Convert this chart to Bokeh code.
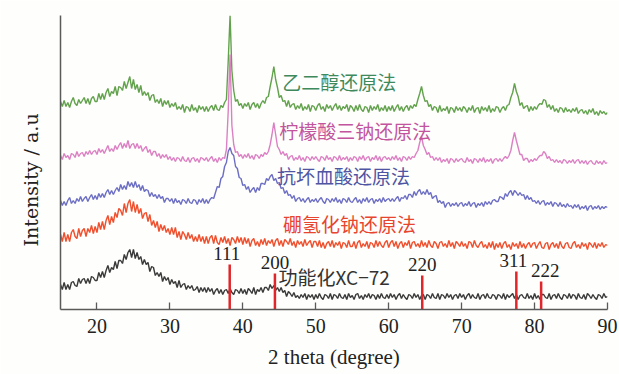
import numpy as np
from bokeh.plotting import figure
from bokeh.models import Range1d, FixedTicker, Label, ColumnDataSource, Title
from bokeh.core.properties import value
from bokeh.embed import file_html
from bokeh.resources import INLINE

# 2θ sampling: 15°–90° in 0.25° steps (301 points); intensities in a.u.
TWO_THETA = np.linspace(15, 90, 301)

# 乙二醇还原法 (ethylene glycol)
EG = [
    208, 203, 209, 203, 207, 202, 208, 212, 206, 204, 210, 206, 209, 212, 206, 211, 205, 211, 213, 208,
    208, 216, 210, 216, 210, 217, 221, 213, 218, 216, 223, 214, 223, 222, 219, 228, 221, 227, 233, 221,
    230, 220, 225, 217, 224, 214, 218, 214, 217, 209, 214, 215, 207, 210, 206, 211, 203, 209, 205, 209,
    202, 206, 203, 207, 200, 203, 200, 205, 197, 203, 202, 198, 205, 199, 202, 197, 204, 200, 203, 198,
    203, 198, 202, 204, 199, 205, 200, 199, 204, 202, 207, 210, 249, 294, 239, 219, 208, 210, 204, 206,
    201, 206, 203, 207, 200, 205, 207, 202, 206, 201, 206, 209, 206, 212, 213, 223, 232, 243, 230, 222,
    212, 214, 208, 209, 203, 209, 202, 205, 206, 200, 204, 201, 206, 199, 203, 200, 205, 198, 204, 203,
    199, 204, 206, 200, 203, 198, 205, 201, 204, 199, 203, 206, 200, 204, 199, 203, 201, 205, 198, 204,
    202, 198, 204, 199, 205, 200, 198, 203, 202, 197, 204, 199, 203, 200, 205, 198, 202, 199, 204, 198,
    203, 199, 204, 198, 202, 205, 199, 203, 198, 202, 204, 199, 204, 201, 205, 203, 210, 216, 223, 214,
    208, 209, 203, 205, 199, 203, 202, 197, 204, 198, 201, 199, 203, 196, 202, 201, 197, 203, 199, 202,
    198, 203, 201, 197, 202, 199, 204, 197, 201, 202, 196, 203, 199, 202, 198, 204, 197, 201, 198, 203,
    202, 197, 201, 203, 199, 204, 205, 212, 217, 226, 218, 213, 204, 207, 201, 203, 204, 198, 203, 199,
    203, 200, 204, 206, 205, 210, 209, 202, 205, 200, 204, 198, 201, 197, 202, 201, 197, 202, 198, 200,
    197, 201, 198, 202, 196, 199, 200, 196, 199, 195, 200, 197, 201, 195, 198, 194, 199, 196, 198, 195,
    197,
]

# 柠檬酸三钠还原法 (trisodium citrate)
TSC = [
    154, 150, 156, 152, 154, 150, 156, 155, 152, 158, 153, 156, 157, 153, 158, 155, 159, 155, 158, 159,
    155, 161, 157, 160, 156, 160, 164, 158, 161, 158, 164, 160, 164, 167, 161, 166, 162, 169, 161, 165,
    166, 161, 166, 161, 164, 158, 161, 163, 157, 160, 154, 158, 158, 153, 156, 151, 155, 152, 155, 150,
    153, 149, 152, 148, 152, 151, 148, 153, 149, 148, 152, 147, 151, 152, 148, 151, 147, 152, 151, 149,
    152, 148, 151, 153, 148, 151, 147, 152, 149, 152, 151, 160, 199, 255, 184, 165, 157, 158, 153, 155,
    151, 155, 152, 156, 151, 154, 150, 155, 154, 151, 155, 153, 157, 155, 158, 165, 175, 187, 175, 163,
    160, 155, 158, 154, 156, 150, 153, 154, 149, 152, 150, 154, 149, 152, 148, 153, 152, 149, 153, 150,
    153, 150, 148, 153, 152, 149, 154, 150, 152, 148, 153, 152, 149, 154, 149, 152, 150, 153, 148, 152,
    149, 153, 152, 148, 153, 150, 154, 149, 152, 153, 148, 152, 150, 154, 149, 153, 148, 152, 153, 150,
    152, 149, 153, 150, 154, 149, 152, 148, 153, 152, 149, 153, 150, 153, 152, 156, 159, 167, 173, 164,
    160, 155, 157, 152, 153, 149, 152, 149, 152, 147, 150, 148, 151, 146, 151, 150, 147, 151, 148, 150,
    151, 148, 147, 152, 148, 150, 146, 151, 150, 147, 151, 148, 152, 147, 150, 148, 151, 146, 150, 151,
    148, 151, 148, 151, 153, 151, 154, 159, 169, 177, 169, 162, 155, 155, 149, 151, 151, 147, 150, 148,
    151, 149, 152, 154, 154, 158, 156, 151, 153, 149, 150, 147, 150, 147, 149, 146, 150, 149, 146, 149,
    147, 150, 146, 149, 150, 146, 149, 146, 149, 145, 148, 149, 146, 145, 149, 146, 148, 145, 149, 146,
    147,
]

# 抗坏血酸还原法 (ascorbic acid)
AA = [
    109, 104, 108, 104, 109, 112, 106, 109, 106, 111, 108, 113, 108, 111, 113, 108, 112, 115, 110, 114,
    110, 116, 112, 116, 112, 117, 120, 115, 119, 115, 119, 122, 118, 125, 120, 124, 120, 128, 123, 127,
    122, 128, 122, 125, 119, 124, 118, 120, 119, 113, 117, 113, 115, 111, 115, 111, 113, 107, 111, 111,
    108, 111, 106, 111, 107, 109, 105, 110, 109, 106, 111, 107, 106, 110, 109, 105, 110, 107, 111, 106,
    110, 106, 110, 112, 111, 117, 123, 122, 131, 133, 143, 147, 158, 162, 156, 154, 143, 141, 132, 131,
    124, 125, 120, 123, 117, 120, 122, 117, 122, 119, 126, 126, 125, 131, 129, 133, 135, 129, 131, 126,
    127, 121, 122, 116, 119, 114, 115, 111, 114, 108, 111, 112, 108, 111, 107, 110, 112, 107, 110, 108,
    111, 107, 110, 112, 108, 106, 111, 110, 107, 111, 108, 112, 107, 110, 106, 111, 110, 107, 112, 108,
    107, 110, 112, 107, 110, 106, 111, 108, 112, 107, 110, 111, 106, 110, 108, 111, 107, 112, 108, 110,
    111, 108, 111, 108, 111, 113, 108, 112, 111, 114, 110, 115, 115, 112, 118, 114, 118, 120, 115, 118,
    115, 120, 115, 117, 111, 113, 114, 107, 109, 106, 108, 102, 106, 107, 103, 106, 104, 107, 103, 106,
    107, 103, 106, 104, 108, 103, 106, 107, 102, 106, 104, 107, 103, 108, 105, 108, 105, 109, 110, 108,
    108, 113, 112, 110, 116, 113, 117, 119, 114, 119, 117, 114, 117, 114, 115, 110, 114, 110, 112, 108,
    109, 106, 109, 105, 108, 109, 104, 107, 105, 108, 103, 107, 106, 103, 107, 103, 105, 102, 106, 103,
    104, 101, 105, 102, 105, 100, 103, 101, 104, 99, 103, 104, 100, 103, 101, 104, 100, 103, 101, 103,
    102,
]

# 硼氢化钠还原法 (sodium borohydride)
SB = [
    75, 68, 77, 68, 75, 68, 77, 80, 73, 71, 81, 73, 79, 81, 73, 81, 77, 84, 76, 83,
    77, 87, 80, 88, 80, 89, 94, 85, 93, 87, 97, 92, 101, 99, 94, 106, 97, 106, 110, 98,
    108, 97, 105, 96, 101, 91, 96, 97, 88, 95, 84, 89, 82, 88, 78, 85, 79, 84, 77, 81,
    75, 82, 75, 82, 72, 78, 70, 78, 75, 70, 77, 71, 75, 68, 73, 68, 75, 68, 73, 66,
    73, 66, 72, 74, 66, 74, 67, 65, 72, 67, 73, 66, 71, 64, 72, 70, 66, 73, 67, 72,
    65, 72, 66, 71, 63, 69, 71, 64, 68, 63, 70, 65, 71, 64, 69, 66, 70, 63, 69, 71,
    64, 69, 63, 70, 68, 65, 71, 64, 68, 62, 69, 65, 68, 63, 70, 64, 67, 69, 62, 68,
    68, 63, 69, 62, 67, 61, 66, 68, 63, 69, 62, 67, 64, 68, 61, 67, 66, 62, 69, 63,
    63, 68, 61, 67, 69, 62, 66, 63, 68, 61, 67, 66, 62, 69, 63, 68, 64, 62, 67, 69,
    62, 67, 69, 63, 68, 61, 66, 68, 62, 67, 64, 69, 61, 67, 68, 63, 66, 62, 69, 63,
    67, 62, 69, 64, 62, 68, 66, 61, 67, 68, 63, 66, 62, 69, 63, 67, 61, 68, 66, 63,
    68, 63, 66, 61, 68, 67, 62, 69, 64, 62, 66, 68, 62, 65, 61, 67, 62, 68, 60, 66,
    62, 67, 61, 66, 68, 62, 65, 60, 67, 63, 66, 61, 68, 62, 66, 61, 65, 67, 62, 66,
    67, 61, 65, 68, 62, 61, 66, 67, 60, 65, 67, 62, 66, 61, 68, 63, 61, 66, 67, 62,
    61, 66, 68, 62, 65, 61, 67, 63, 66, 60, 67, 65, 62, 67, 61, 66, 63, 67, 62, 65,
    64,
]

# 功能化XC-72 (functionalised carbon support)
XC72 = [
    25, 20, 27, 20, 25, 20, 27, 28, 24, 23, 31, 26, 30, 31, 26, 31, 26, 33, 32, 29,
    29, 37, 32, 38, 32, 39, 44, 37, 42, 40, 48, 41, 49, 49, 46, 55, 50, 57, 60, 52,
    60, 51, 57, 50, 53, 45, 50, 45, 47, 38, 43, 42, 34, 37, 33, 37, 28, 33, 29, 32,
    25, 30, 26, 28, 22, 29, 22, 25, 26, 20, 24, 21, 24, 19, 20, 23, 17, 22, 18, 22,
    17, 22, 18, 21, 15, 19, 21, 16, 20, 15, 19, 20, 16, 21, 17, 15, 20, 19, 16, 21,
    16, 20, 15, 21, 19, 16, 22, 15, 20, 18, 22, 17, 22, 22, 19, 25, 21, 24, 19, 22,
    18, 22, 17, 19, 13, 18, 16, 13, 17, 12, 14, 11, 15, 12, 16, 10, 15, 12, 15, 10,
    15, 11, 16, 12, 10, 15, 14, 11, 16, 10, 15, 14, 11, 16, 12, 11, 15, 10, 16, 12,
    14, 10, 15, 16, 11, 14, 10, 15, 12, 16, 11, 15, 14, 10, 15, 11, 16, 12, 11, 15,
    11, 16, 12, 15, 10, 14, 16, 11, 15, 12, 10, 15, 14, 11, 16, 12, 15, 10, 14, 15,
    10, 15, 14, 11, 16, 12, 11, 16, 10, 15, 14, 11, 16, 12, 15, 10, 14, 15, 11, 16,
    12, 15, 10, 14, 16, 11, 15, 12, 11, 16, 10, 14, 15, 11, 16, 12, 11, 15, 14, 10,
    15, 14, 11, 16, 10, 15, 12, 14, 16, 11, 15, 10, 14, 15, 12, 11, 16, 11, 14, 10,
    16, 11, 14, 10, 15, 15, 12, 11, 16, 10, 14, 15, 11, 16, 12, 10, 15, 14, 11, 16,
    11, 15, 14, 10, 16, 12, 11, 15, 10, 16, 14, 11, 15, 12, 10, 15, 14, 11, 16, 12,
    13,
]

# Au reference reflections (hkl, 2θ position, drop-line height)
HKL = ["111", "200", "220", "311", "222"]
HKL_POS = [38.2, 44.4, 64.6, 77.5, 80.9]
HKL_H = [45, 36, 34, 38, 28]

SERIES_NAMES = ["乙二醇还原法", "柠檬酸三钠还原法", "抗坏血酸还原法", "硼氢化钠还原法", "功能化XC−72"]
XTICKS = [20, 30, 40, 50, 60, 70, 80, 90]

BG = "#fefefc"
p = figure(width=619, height=374, output_backend="svg", toolbar_location=None,
           x_range=Range1d(15, 90), y_range=Range1d(0, 294),
           min_border_left=59, min_border_right=12, min_border_top=15, min_border_bottom=65,
           background_fill_color=BG, border_fill_color=BG)
p.outline_line_color = None
p.grid.visible = False

ax = p.xaxis[0]
ax.ticker = FixedTicker(ticks=XTICKS)
ax.axis_line_color = "#5a5a5a"
ax.axis_line_width = 1.5
ax.major_tick_in = 7
ax.major_tick_out = 0
ax.minor_tick_out = 0
ax.major_tick_line_color = "#5a5a5a"
ax.major_tick_line_width = 1.3
ax.minor_tick_line_color = None
ax.major_label_text_font = "Liberation Serif"
ax.major_label_text_font_size = "20px"
ax.major_label_text_color = "#222222"
ax.major_label_standoff = 9
ax.axis_label = "2 theta (degree)"
ax.axis_label_text_font = "Liberation Serif"
ax.axis_label_text_font_size = "21px"
ax.axis_label_text_font_style = "normal"
ax.axis_label_text_color = "#222222"
ax.axis_label_standoff = 9

ay = p.yaxis[0]
ay.ticker = FixedTicker(ticks=[])
ay.axis_line_color = "#5a5a5a"
ay.axis_line_width = 1.5
ay.major_tick_out = 0
ay.minor_tick_out = 0
ay.major_tick_line_color = None
ay.minor_tick_line_color = None
ay.major_label_standoff = 0

# vertical axis title, placed in the left panel
p.add_layout(Title(text="Intensity / a.u", align="left", offset=63, standoff=36,
                   vertical_align="middle", text_font="DejaVu Serif",
                   text_font_size="19px", text_font_style="normal",
                   text_color="#222222"), "left")

# diffraction patterns, bottom to top
traces = [
    (XC72, "#3a3a3a"),
    (SB, "#f0502e"),
    (AA, "#6c6ec4"),
    (EG, "#62a24c"),
    (TSC, "#dc80c4"),
]
for ys, col in traces:
    p.line(TWO_THETA, ys, line_color=col, line_width=1.4)

# Au standard reflection markers
src = ColumnDataSource(dict(x=HKL_POS, h=HKL_H, lab=HKL, dx=[-3, 0, 0, -3, 4]))
p.segment(x0="x", y0=0, x1="x", y1="h", source=src, line_color="#e0262a", line_width=2.5)
p.text(x="x", y="h", text="lab", source=src, x_offset="dx", y_offset=-11,
       text_font=value("Liberation Serif"), text_font_size="19px", text_color="#222222",
       text_align="center", text_baseline="middle")

# series names
name_pos = [(45.4, 228), (45.0, 179), (44.7, 134), (45.5, 86), (44.9, 33)]
name_col = ["#3f8a5c", "#c2559e", "#4f55a3", "#e8452f", "#333333"]
for name, (lx, ly), col in zip(SERIES_NAMES, name_pos, name_col):
    p.add_layout(Label(x=lx, y=ly, text=name, text_font="Noto Sans CJK SC",
                       text_font_size="19px", text_color=col,
                       text_align="left", text_baseline="middle"))

open("out.html", "w").write(file_html(p, INLINE))
